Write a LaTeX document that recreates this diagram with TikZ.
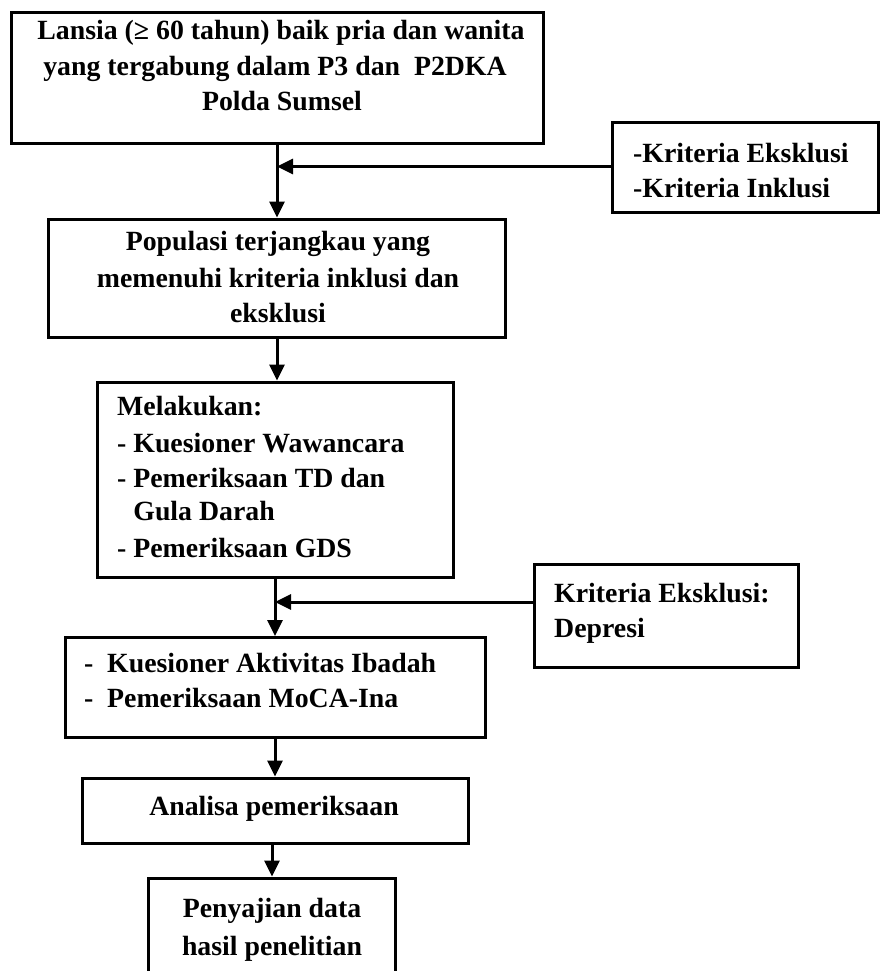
\documentclass[tikz,border=0pt]{standalone}
\usepackage{fontspec}
\setmainfont{Liberation Serif}
\usetikzlibrary{arrows.meta}
\tikzset{
  box/.style={draw=black, line width=3pt, rectangle, inner sep=0pt, fill=white},
  arr/.style={line width=3pt, -{Triangle[length=16pt,width=15pt]}},
  txt/.style={inner sep=0pt, anchor=base, font=\fontsize{27.8}{36}\selectfont\bfseries},
  txtl/.style={inner sep=0pt, anchor=base west, font=\fontsize{27.8}{36}\selectfont\bfseries}
}
\begin{document}
\begin{tikzpicture}[x=1pt,y=-1pt]
\useasboundingbox (0,0) rectangle (881,971);
\fill[white] (0,0) rectangle (881,971);

% boxes
\node[box, minimum width=532pt, minimum height=130pt] (b1) at (277,78) {};
\node[box, minimum width=266pt, minimum height=90pt] (k1) at (745,167.5) {};
\node[box, minimum width=457pt, minimum height=118pt] (b2) at (277,278) {};
\node[box, minimum width=356pt, minimum height=195pt] (b3) at (275,479.5) {};
\node[box, minimum width=264pt, minimum height=103pt] (k2) at (666,616) {};
\node[box, minimum width=420pt, minimum height=100pt] (b4) at (275,687.5) {};
\node[box, minimum width=386pt, minimum height=65pt] (b5) at (275,810.5) {};
\node[box, minimum width=247pt, minimum height=122pt] (b6) at (272,939) {};

% texts
\node[txt] (t1a) at (281,40) {Lansia (≥ 60 tahun) baik pria dan wanita};
\node[txt] (t1b) at (275,76) {yang tergabung dalam P3 dan\ \ P2DKA};
\node[txt] (t1c) at (282,111) {Polda Sumsel};

\node[txtl] (tk1a) at (633,162) {-Kriteria Eksklusi};
\node[txtl] (tk1b) at (633,197) {-Kriteria Inklusi};

\node[txt] (t2a) at (278,250) {Populasi terjangkau yang};
\node[txt] (t2b) at (278,287) {memenuhi kriteria inklusi dan};
\node[txt] (t2c) at (278,322) {eksklusi};

\node[txtl] (t3a) at (117,415) {Melakukan:};
\node[txtl] (t3b) at (117,452) {- Kuesioner Wawancara};
\node[txtl] (t3c) at (117,487) {- Pemeriksaan TD dan};
\node[txtl] (t3d) at (117,520) {\phantom{- }Gula Darah};
\node[txtl] (t3e) at (117,557) {- Pemeriksaan GDS};

\node[txtl] (tk2a) at (554,602) {Kriteria Eksklusi:};
\node[txtl] (tk2b) at (554,637) {Depresi};

\node[txtl] (t4a) at (84,672) {\makebox[23pt][l]{-}Kuesioner Aktivitas Ibadah};
\node[txtl] (t4b) at (84,707) {\makebox[23pt][l]{-}Pemeriksaan MoCA-Ina};

\node[txt] (t5) at (274,815) {Analisa pemeriksaan};

\node[txt] (t6a) at (272,917) {Penyajian data};
\node[txt] (t6b) at (272,955) {hasil penelitian};

% connectors
\draw[arr] (b1.south) -- (b1.south |- b2.north);
\draw[arr] ([yshift=1pt]k1.west) -- ([yshift=1pt]k1.west -| b1.south);
\draw[arr] (b2.south) -- (b2.south |- b3.north);
\draw[arr] (b3.south) -- (b3.south |- b4.north);
\draw[arr] ([yshift=14pt]k2.west) -- ([yshift=14pt]k2.west -| b3.south);
\draw[arr] (b4.south) -- (b4.south |- b5.north);
\draw[arr] (b5.south -| b6.north) -- (b6.north);
\end{tikzpicture}
\end{document}
